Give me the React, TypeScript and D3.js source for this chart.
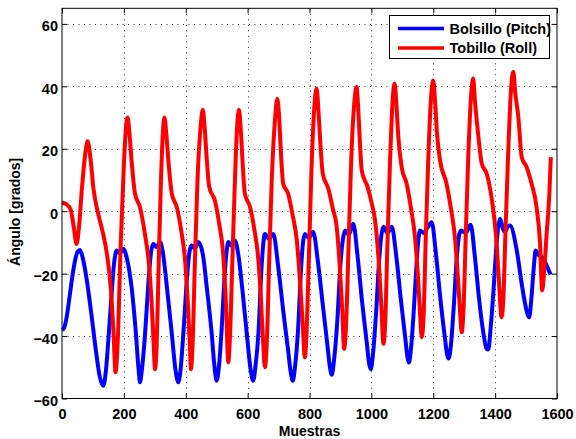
import React, { useEffect, useRef } from 'react';
import * as d3 from 'd3';

// muestra, ángulo
const pitch: [number, number][] = [
  [0, -38], [6, -37.5], [15, -34], [25, -27], [38, -18], [50, -13], [58, -12.4], [63, -13.5], [69, -15.8],
  [80, -22], [95, -33], [110, -45], [122, -53], [133.5, -55.9], [142, -51], [150, -41], [160, -27], [168, -17],
  [177, -12.6], [187, -13.5], [198, -12], [209, -14.8], [225, -24.4], [239, -39.3], [247, -50], [252, -54.8],
  [258, -51], [268, -40], [279, -23.3], [288, -13], [295, -10.5], [305, -11.5], [317, -9.9], [325, -12.6],
  [338, -23.3], [355, -39.3], [367, -51], [376, -54.8], [383, -51], [393, -38], [405, -20], [412, -13],
  [419, -11], [429, -12], [440.5, -9.9], [455, -13.7], [468, -24.4], [484, -39.3], [493, -50], [500, -54.3],
  [507, -50], [516, -38], [526, -20], [532, -13], [537.6, -9.9], [547, -11], [559, -9.4], [570, -14],
  [585, -27], [600, -42], [610, -51], [618, -54.3], [625, -50], [635, -39], [645, -18], [651, -10],
  [656, -7.3], [668, -8.8], [683, -7.3], [699, -17.9], [715, -31.8], [731, -44.7], [740, -52], [746, -54.3],
  [753, -50], [763, -38], [773, -18], [779, -10], [785, -7.3], [797, -8.5], [812, -6.7], [827, -16],
  [843, -30], [858, -43], [866, -50], [872, -52.4], [879, -48], [890, -35], [900, -17], [908, -9],
  [915, -6.2], [927, -7.5], [941.5, -4], [955, -14], [970, -29], [985, -42], [993, -49], [998, -50.6],
  [1005, -46], [1015, -33], [1025, -16], [1032, -8], [1039, -5], [1052, -7], [1066, -5], [1080, -14],
  [1095, -28], [1110, -41], [1117, -47], [1121.5, -48.5], [1128, -44], [1137, -32], [1146, -17], [1152, -9],
  [1157, -6.2], [1170, -7], [1180, -5.5], [1195, -3.5], [1208, -13], [1222, -27], [1237, -40], [1245, -46],
  [1250, -47.2], [1257, -43], [1266, -31], [1276, -15], [1283, -8], [1290, -6.2], [1305, -7], [1321, -4.3],
  [1334, -14], [1348, -28], [1362, -39], [1372, -44], [1378, -44.3], [1385, -38], [1395, -25], [1405, -10],
  [1410, -5], [1416, -2.4], [1425, -5.5], [1432, -6.7], [1440, -5], [1448, -4.6], [1470, -12.6],
  [1486, -23.3], [1497, -29.7], [1510, -34], [1518, -27], [1525, -18], [1531, -12.6], [1540, -14],
  [1550, -14.6], [1560, -16], [1579, -20.3],
];

const roll: [number, number][] = [
  [0, 2.8], [15, 2.2], [28, 0.5], [38, -5], [47, -10.5], [55, -5], [65, 8], [76, 19], [83, 22.4], [92, 17],
  [102, 7], [115, 0], [130, -6], [145, -13.6], [158, -25], [167, -40], [173, -51.6], [180, -42], [190, -10],
  [200, 15], [207, 27], [212, 30], [218, 25], [225, 16], [236, 5.6], [252, 1.3], [268, -7.3], [282, -18],
  [290, -30], [296, -42], [300.6, -50.6], [306, -43], [313, -15], [320, 10], [326, 25], [331, 30], [337, 25],
  [344, 16], [355, 5.6], [371, 1.3], [385, -6], [398, -16], [407, -30], [413, -42], [417, -50.6], [422, -43],
  [430, -15], [438, 10], [448, 27], [455, 32.5], [461, 27], [467, 18], [476, 7.7], [494, 3.4], [508, -4],
  [521, -13.7], [530, -30], [537.6, -48.4], [543, -40], [551, -15], [559, 10], [566, 27], [572, 32.5],
  [578, 26], [583, 17], [591, 5.6], [608, 1.3], [622, -6], [634, -14.8], [643, -28], [650, -42], [656, -50],
  [662, -42], [670, -15], [678, 10], [689, 30], [696, 36], [702, 30], [707, 20], [715, 8.8], [731, 5.6],
  [745, -1], [759, -9.4], [769, -22], [778, -36], [785, -46.8], [790, -40], [798, -15], [806, 12], [816, 34],
  [823, 39.3], [829, 32], [835, 22], [843, 12], [861, 7.2], [875, 1], [888, -5.1], [898, -18], [906, -32],
  [912, -44.1], [918, -37], [926, -12], [934, 14], [945, 35], [952, 39.8], [958, 32], [963, 22], [969, 13],
  [988, 7.7], [1000, 3], [1012, -3], [1023, -15], [1032, -30], [1039, -42.5], [1045, -35], [1052, -10],
  [1060, 15], [1069, 36], [1075, 40.9], [1081, 34], [1087, 24], [1098, 14.1], [1114, 8.8], [1128, 1],
  [1141, -8.3], [1150, -20], [1157, -32], [1163, -40.4], [1169, -33], [1176, -8], [1184, 17], [1194, 38],
  [1200, 41.9], [1206, 35], [1212, 25], [1222, 16.3], [1243, 8.8], [1257, 1], [1270, -8.3], [1279, -20],
  [1286, -31], [1292, -38.8], [1298, -31], [1305, -8], [1313, 17], [1323, 38], [1329, 42.5], [1335, 35],
  [1345, 24.8], [1357, 15.2], [1373, 12], [1389, 4], [1403, -8], [1412, -22], [1421, -34], [1427, -27],
  [1434, -5], [1442, 18], [1452, 40], [1459, 44.6], [1465, 38], [1475, 30.2], [1486, 17.3], [1502, 14.1],
  [1518, 8.8], [1534, 1.3], [1545, -10], [1552, -25.4], [1558, -20], [1566, -8], [1575, 5], [1580, 17.3],
];

const xTicks = [0, 200, 400, 600, 800, 1000, 1200, 1400, 1600];
const yTicks = [-60, -40, -20, 0, 20, 40, 60];
const seriesNames = ['Bolsillo (Pitch)', 'Tobillo (Roll)'];
const seriesColors = ['#0000ff', '#ff0000'];

const App = () => {
  const ref = useRef<SVGSVGElement>(null);

  useEffect(() => {
    const width = 576;
    const height = 439;
    const margin = { top: 8.3, right: 19, bottom: 40.5, left: 62 };
    const font = '"Liberation Sans", Arial, Helvetica, sans-serif';

    const svg = d3.select(ref.current);
    svg.selectAll('*').remove();
    svg.attr('width', width).attr('height', height)
      .style('font-family', font).style('font-weight', 'bold');

    svg.append('rect').attr('width', width).attr('height', height).attr('fill', '#fff');

    const x = d3.scaleLinear().domain([0, 1600]).range([margin.left, width - margin.right]);
    const y = d3.scaleLinear().domain([-60, 65]).range([height - margin.bottom, margin.top]);

    // rejilla punteada
    const grid = svg.append('g').attr('stroke', '#333').attr('stroke-width', 1)
      .attr('stroke-dasharray', '1 4.5');
    grid.selectAll('line.gx').data(xTicks.slice(1, -1)).join('line')
      .attr('x1', d => Math.round(x(d)) + 0.5).attr('x2', d => Math.round(x(d)) + 0.5)
      .attr('y1', y(65)).attr('y2', y(-60));
    grid.selectAll('line.gy').data(yTicks.slice(1)).join('line')
      .attr('class', 'gy')
      .attr('y1', d => Math.round(y(d)) + 0.5).attr('y2', d => Math.round(y(d)) + 0.5)
      .attr('x1', x(0)).attr('x2', x(1600));

    const line = d3.line<[number, number]>()
      .x(d => x(d[0])).y(d => y(d[1]))
      .curve(d3.curveMonotoneX);

    [pitch, roll].forEach((s, i) => {
      svg.append('path').datum(s)
        .attr('fill', 'none').attr('stroke', seriesColors[i])
        .attr('stroke-width', 4).attr('stroke-linejoin', 'round')
        .attr('d', line);
    });

    const tickStyle = (g: any) => {
      g.select('.domain').remove();
      g.selectAll('line').attr('stroke', '#000');
      g.selectAll('text').attr('fill', '#000').style('font-size', '14.5px')
        .style('font-family', font).style('font-weight', 'bold');
    };

    svg.append('g').attr('transform', `translate(0,${y(-60)})`)
      .call(d3.axisBottom(x).tickValues(xTicks).tickFormat(d3.format('d'))
        .tickSizeInner(-5).tickSizeOuter(0).tickPadding(10))
      .call(tickStyle);
    svg.append('g').attr('transform', `translate(0,${y(65)})`)
      .call(d3.axisTop(x).tickValues(xTicks).tickSizeInner(-5).tickSizeOuter(0).tickFormat(() => ''))
      .call(tickStyle);
    svg.append('g').attr('transform', `translate(${x(0)},0)`)
      .call(d3.axisLeft(y).tickValues(yTicks).tickSizeInner(-5).tickSizeOuter(0).tickPadding(4))
      .call(tickStyle)
      .selectAll('text').attr('dy', '0.48em');
    svg.append('g').attr('transform', `translate(${x(1600)},0)`)
      .call(d3.axisRight(y).tickValues(yTicks).tickSizeInner(-5).tickSizeOuter(0).tickFormat(() => ''))
      .call(tickStyle);

    // marco de los ejes
    svg.append('rect')
      .attr('x', x(0)).attr('y', y(65))
      .attr('width', x(1600) - x(0)).attr('height', y(-60) - y(65))
      .attr('fill', 'none').attr('stroke', '#000').attr('stroke-width', 1);

    svg.append('text')
      .attr('x', (x(0) + x(1600)) / 2).attr('y', 435.5)
      .attr('text-anchor', 'middle').style('font-size', '14px')
      .text('Muestras');

    svg.append('text')
      .attr('transform', `translate(19.5,${y(-0.2)}) rotate(-90)`)
      .attr('text-anchor', 'middle').style('font-size', '14px')
      .text('Ángulo [grados]');

    // leyenda
    const legend = svg.append('g').attr('transform', 'translate(389.5,15.5)');
    legend.append('rect').attr('width', 160).attr('height', 43)
      .attr('fill', '#fff').attr('stroke', '#000').attr('stroke-width', 1);
    seriesNames.forEach((name, i) => {
      const ly = 13 + i * 19.4;
      legend.append('line')
        .attr('x1', 8.5).attr('x2', 54.5).attr('y1', ly).attr('y2', ly)
        .attr('stroke', seriesColors[i]).attr('stroke-width', 3.5);
      legend.append('text')
        .attr('x', 60).attr('y', ly + 5.5).style('font-size', '14.5px')
        .text(name);
    });
  }, []);

  return (
    <svg ref={ref} style={{ position: 'absolute', left: 0, top: 0 }} />
  );
};

export default App;
